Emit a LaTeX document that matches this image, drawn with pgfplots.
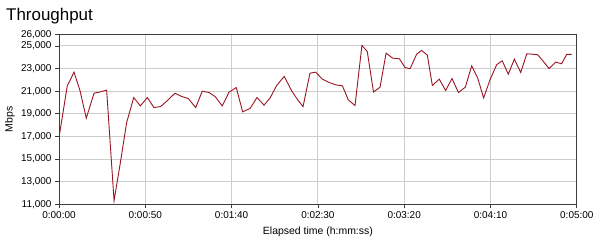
\documentclass[border=0pt]{standalone}
\usepackage{fontspec}
\setmainfont{Liberation Sans}
\usepackage{pgfplots}
\pgfplotsset{compat=1.18}
\definecolor{linecol}{RGB}{155,20,35}
\definecolor{gridcol}{RGB}{205,205,205}
\definecolor{framecol}{RGB}{60,60,60}
\begin{document}
\begin{tikzpicture}[x=1bp,y=1bp]
\useasboundingbox (0,0) rectangle (600,247);
\node[anchor=base west, font=\fontsize{17}{17}\selectfont, inner sep=0] at (6,226.3) {Throughput};
\begin{axis}[
  at={(59bp,42.7bp)}, anchor=south west, scale only axis,
  width=517.8bp, height=169.7bp,
  xmin=0, xmax=300, ymin=11000, ymax=26000,
  scaled y ticks=false, scaled x ticks=false,
  xtick={0,50,100,150,200,250,300},
  xticklabels={0:00:00,0:00:50,0:01:40,0:02:30,0:03:20,0:04:10,0:05:00},
  ytick={11000,13000,15000,17000,19000,21000,23000,25000,26000},
  yticklabels={{11,000},{13,000},{15,000},{17,000},{19,000},{21,000},{23,000},{25,000},{26,000}},
  xtick pos=bottom, ytick pos=left,
  tick align=outside, major tick length=4bp,
  tick style={framecol, line width=0.8bp},
  grid=major, major grid style={gridcol, line width=0.9bp},
  axis line style={framecol, line width=0.9bp},
  ticklabel style={font=\fontsize{10}{10}\selectfont},
  xlabel={Elapsed time (h:mm:ss)},
  ylabel={Mbps},
  label style={font=\fontsize{10.5}{10.5}\selectfont},
  xlabel style={at={(axis description cs:0.5,-0.163)}, anchor=center},
  ylabel style={at={(axis description cs:-0.0946,0.5)}, anchor=center},
]
\addplot[linecol, line width=0.9bp, mark=none] coordinates {
(0,16900) (4.8,21470) (8.7,22680) (12.2,21030) (15.8,18610) (20.3,20820)
(24.1,20940) (27.6,21090) (31.9,11320) (35.5,14630) (39.2,18230) (43.3,20440)
(47.1,19700) (51.2,20440) (55.0,19550) (58.9,19640) (62.8,20170) (67.2,20820)
(71.1,20530) (74.9,20350) (79.2,19550) (83.0,21000) (86.9,20880) (90.4,20530)
(94.6,19700) (98.5,20910) (102.7,21320) (106.4,19170) (110.7,19470) (114.7,20440)
(118.8,19760) (122.3,20400) (126.1,21500) (130.5,22300) (134.8,21030) (138.3,20230)
(141.4,19640) (145.4,22590) (148.7,22680) (152.6,22060) (156.4,21770) (160.3,21560)
(164.2,21470) (167.6,20230) (171.5,19730) (175.5,25040) (178.6,24510) (182.2,20930)
(186.0,21350) (189.5,24360) (193.3,23920) (197.2,23860) (200.5,23090) (203.4,22980)
(207.2,24270) (210.1,24600) (213.4,24190) (216.3,21500) (220.3,22060) (224.0,21060)
(227.7,22120) (231.4,20880) (235.4,21350) (239.1,23240) (242.6,22150) (246.0,20400)
(249.7,22000) (253.6,23350) (256.8,23680) (260.3,22500) (263.8,23830) (267.5,22650)
(271.0,24300) (274.2,24270) (277.3,24220) (280.6,23630) (283.9,23000) (287.8,23570)
(291.2,23420) (294.1,24250) (297.0,24250)
};
\end{axis}
\end{tikzpicture}
\end{document}
